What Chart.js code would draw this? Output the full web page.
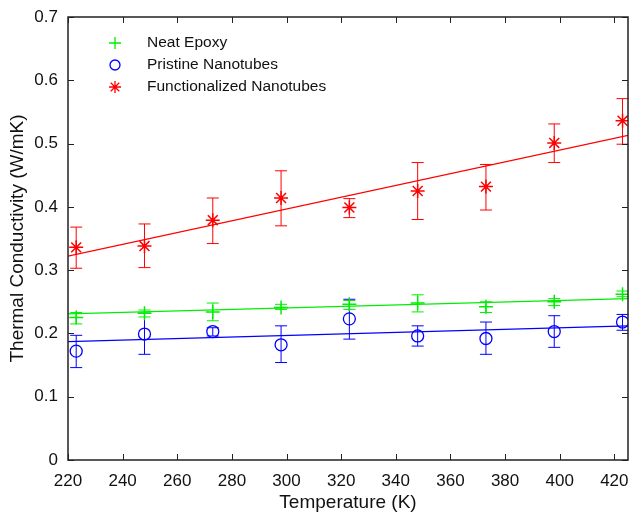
<!DOCTYPE html>
<html>
<head>
<meta charset="utf-8">
<script src="https://cdn.jsdelivr.net/npm/chart.js@4.4.0/dist/chart.umd.min.js"></script>
<style>
  html, body { margin: 0; padding: 0; background: #fff; }
  #wrap { width: 632px; height: 514px; }
</style>
</head>
<body>
<div id="wrap"><canvas id="chart"></canvas></div>
<script>
/* Data */
const temps = [223, 248, 273, 298, 323, 348, 373, 398, 423];

const epoxy    = [0.225, 0.232, 0.234, 0.241, 0.246, 0.248, 0.242, 0.250, 0.262];
const epoxyHi  = [0.233, 0.237, 0.248, 0.246, 0.252, 0.261, 0.250, 0.255, 0.267];
const epoxyLo  = [0.215, 0.226, 0.220, 0.238, 0.238, 0.234, 0.233, 0.244, 0.258];

const pristine   = [0.172, 0.199, 0.203, 0.182, 0.223, 0.196, 0.192, 0.203, 0.218];
const pristineHi = [0.197, 0.232, 0.209, 0.212, 0.254, 0.212, 0.218, 0.228, 0.230];
const pristineLo = [0.146, 0.167, 0.196, 0.154, 0.191, 0.180, 0.167, 0.178, 0.205];

const func   = [0.336, 0.338, 0.379, 0.414, 0.399, 0.425, 0.432, 0.501, 0.536];
const funcHi = [0.368, 0.373, 0.414, 0.457, 0.413, 0.470, 0.467, 0.531, 0.571];
const funcLo = [0.303, 0.304, 0.342, 0.370, 0.383, 0.380, 0.395, 0.470, 0.499];

// linear fits, value at 220 K and 425 K
const fitX = [220, 425];
const epoxyFit    = [0.231, 0.255];
const pristineFit = [0.187, 0.212];
const funcFit     = [0.322, 0.513];

const xTicks = [220, 240, 260, 280, 300, 320, 340, 360, 380, 400, 420];
const yTicks = [0, 0.1, 0.2, 0.3, 0.4, 0.5, 0.6, 0.7];

const seriesNames = ['Neat Epoxy', 'Pristine Nanotubes', 'Functionalized Nanotubes'];
const GREEN = '#00ee00', BLUE = '#0000ff', RED = '#ff0000';

const pts = (ys) => temps.map((t, i) => ({ x: t, y: ys[i] }));
const fit = (ys) => fitX.map((t, i) => ({ x: t, y: ys[i] }));

/* Error bars, frame and legend */
const errBars = [
  { hi: epoxyHi, lo: epoxyLo, color: GREEN },
  { hi: pristineHi, lo: pristineLo, color: BLUE },
  { hi: funcHi, lo: funcLo, color: RED }
];

const extras = {
  id: 'extras',
  beforeDatasetsDraw(chart) {
    const ctx = chart.ctx, xs = chart.scales.x, ys = chart.scales.y;
    ctx.save();
    ctx.lineWidth = 1;
    errBars.forEach(e => {
      ctx.strokeStyle = e.color;
      temps.forEach((t, i) => {
        const px = xs.getPixelForValue(t);
        const top = ys.getPixelForValue(e.hi[i]);
        const bot = ys.getPixelForValue(e.lo[i]);
        ctx.beginPath();
        ctx.moveTo(px, top); ctx.lineTo(px, bot);
        ctx.moveTo(px - 6, top); ctx.lineTo(px + 6, top);
        ctx.moveTo(px - 6, bot); ctx.lineTo(px + 6, bot);
        ctx.stroke();
      });
    });
    ctx.restore();
  },
  afterDraw(chart) {
    const ctx = chart.ctx, a = chart.chartArea;
    const xs = chart.scales.x, ys = chart.scales.y;
    ctx.save();
    ctx.strokeStyle = '#222';
    ctx.lineWidth = 1.5;
    ctx.strokeRect(a.left, a.top, a.right - a.left, a.bottom - a.top);
    ctx.lineWidth = 1;
    ctx.beginPath();
    xTicks.forEach(v => {
      const px = Math.round(xs.getPixelForValue(v)) + 0.5;
      ctx.moveTo(px, a.bottom); ctx.lineTo(px, a.bottom - 6);
      ctx.moveTo(px, a.top); ctx.lineTo(px, a.top + 6);
    });
    yTicks.forEach(v => {
      const py = Math.round(ys.getPixelForValue(v)) + 0.5;
      ctx.moveTo(a.left, py); ctx.lineTo(a.left + 6, py);
      ctx.moveTo(a.right, py); ctx.lineTo(a.right - 6, py);
    });
    ctx.stroke();

    // legend
    const lx = 115, ly = [43, 65, 87];
    const colors = [GREEN, BLUE, RED];
    ctx.font = '15.5px "Liberation Sans", Arial, sans-serif';
    ctx.textBaseline = 'middle';
    ctx.fillStyle = '#111';
    seriesNames.forEach((n, i) => {
      ctx.fillText(n, 147, ly[i]);
      ctx.strokeStyle = colors[i];
      ctx.lineWidth = 1.3;
      ctx.beginPath();
      if (i === 0) {
        ctx.moveTo(lx - 6, ly[i]); ctx.lineTo(lx + 6, ly[i]);
        ctx.moveTo(lx, ly[i] - 6); ctx.lineTo(lx, ly[i] + 6);
      } else if (i === 1) {
        ctx.arc(lx, ly[i], 5, 0, Math.PI * 2);
      } else {
        for (let k = 0; k < 4; k++) {
          const ang = k * Math.PI / 4;
          ctx.moveTo(lx - 6 * Math.cos(ang), ly[i] - 6 * Math.sin(ang));
          ctx.lineTo(lx + 6 * Math.cos(ang), ly[i] + 6 * Math.sin(ang));
        }
      }
      ctx.stroke();
    });
    ctx.restore();
  }
};

/* Chart */
const fam = '"Liberation Sans", Arial, sans-serif';
const font = { family: fam, size: 17 };

new Chart(document.getElementById('chart'), {
  type: 'scatter',
  data: {
    datasets: [
      { label: seriesNames[0], data: pts(epoxy), pointStyle: 'cross', radius: 7,
        borderColor: GREEN, backgroundColor: GREEN, borderWidth: 1.5, showLine: false },
      { label: seriesNames[1], data: pts(pristine), pointStyle: 'circle', radius: 6,
        borderColor: BLUE, backgroundColor: 'rgba(0,0,0,0)', borderWidth: 1.3, showLine: false },
      { label: seriesNames[2], data: pts(func), pointStyle: 'star', radius: 7,
        borderColor: RED, backgroundColor: RED, borderWidth: 1.5, showLine: false },
      { data: fit(epoxyFit), showLine: true, pointRadius: 0, borderColor: GREEN, borderWidth: 1.2 },
      { data: fit(pristineFit), showLine: true, pointRadius: 0, borderColor: BLUE, borderWidth: 1.2 },
      { data: fit(funcFit), showLine: true, pointRadius: 0, borderColor: RED, borderWidth: 1.2 }
    ]
  },
  options: {
    responsive: true,
    maintainAspectRatio: false,
    animation: false,
    layout: { autoPadding: false, padding: { top: 17, right: 4, left: 0, bottom: 0 } },
    plugins: { legend: { display: false }, tooltip: { enabled: false } },
    scales: {
      x: {
        type: 'linear', min: 220, max: 425,
        afterBuildTicks: s => { s.ticks = xTicks.map(v => ({ value: v })); },
        afterFit: s => { s.height = 54; s.paddingLeft = 0; s.paddingRight = 0; },
        grid: { display: false, drawTicks: false },
        border: { display: false },
        ticks: { color: '#111', font: font, padding: 11, maxRotation: 0 },
        title: { display: true, text: 'Temperature (K)', color: '#111',
                 font: { family: fam, size: 19 }, padding: { top: 0, bottom: 0 } }
      },
      y: {
        min: 0, max: 0.7,
        afterBuildTicks: s => { s.ticks = yTicks.map(v => ({ value: v })); },
        afterFit: s => { s.width = 68; s.paddingTop = 0; s.paddingBottom = 0; },
        grid: { display: false, drawTicks: false },
        border: { display: false },
        ticks: { color: '#111', font: font, padding: 10,
                 callback: v => v === 0 ? '0' : v.toFixed(1) },
        title: { display: true, text: 'Thermal Conductivity (W/mK)', color: '#111',
                 font: { family: fam, size: 19 }, padding: { top: 6, bottom: 0 } }
      }
    }
  },
  plugins: [extras]
});
</script>
</body>
</html>
